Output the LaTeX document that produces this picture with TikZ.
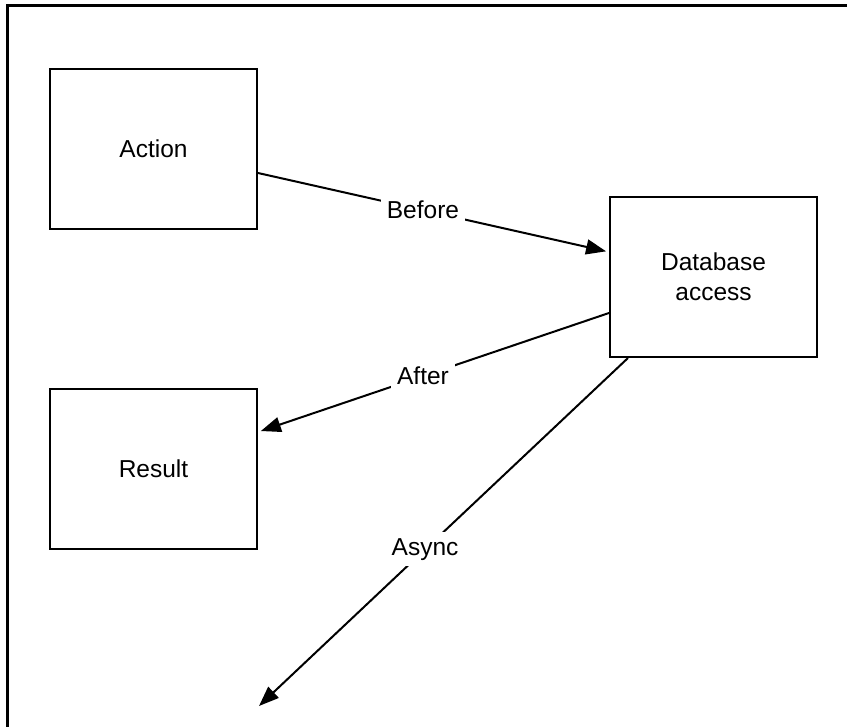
\documentclass[tikz,border=0pt]{standalone}
\usepackage{fontspec}
\setmainfont{Liberation Sans}
\usetikzlibrary{arrows.meta,positioning}
\begin{document}
\begin{tikzpicture}[x=1pt,y=-1pt,
  box/.style={draw=black,line width=2pt,minimum width=207pt,minimum height=160pt,
    inner sep=0pt,align=center,font=\fontsize{24.5}{30}\selectfont},
  link/.style={draw=black,line width=2pt,-{Triangle[length=20pt,width=15pt]}},
  tag/.style={fill=white,inner sep=6pt,font=\fontsize{24.5}{30}\selectfont}]
  \useasboundingbox (0,0) rectangle (847,727);
  % frame (top and left edges)
  \draw[line width=3pt] (7,727) -- (7,6) -- (847,6);
  % boxes
  \node[box] (action) at (153.5,149) {Action};
  \node[box] (result) at (153.5,469) {Result};
  \node[box] (db) at (713.5,277) {Database\\access};
  \coordinate (asyncend) at (259,706);
  % connectors
  \draw[link,shorten >=3pt] ([yshift=-24pt]action.east) -- node[tag,pos=0.47] {Before} ([yshift=25pt]db.west);
  \draw[link,shorten >=3pt] ([yshift=-36pt]db.west) -- node[tag,pos=0.53] {After} ([yshift=37pt]result.east);
  \draw[link] ([xshift=-85.5pt]db.south) -- node[tag,pos=0.55] {Async} (asyncend);
\end{tikzpicture}
\end{document}
